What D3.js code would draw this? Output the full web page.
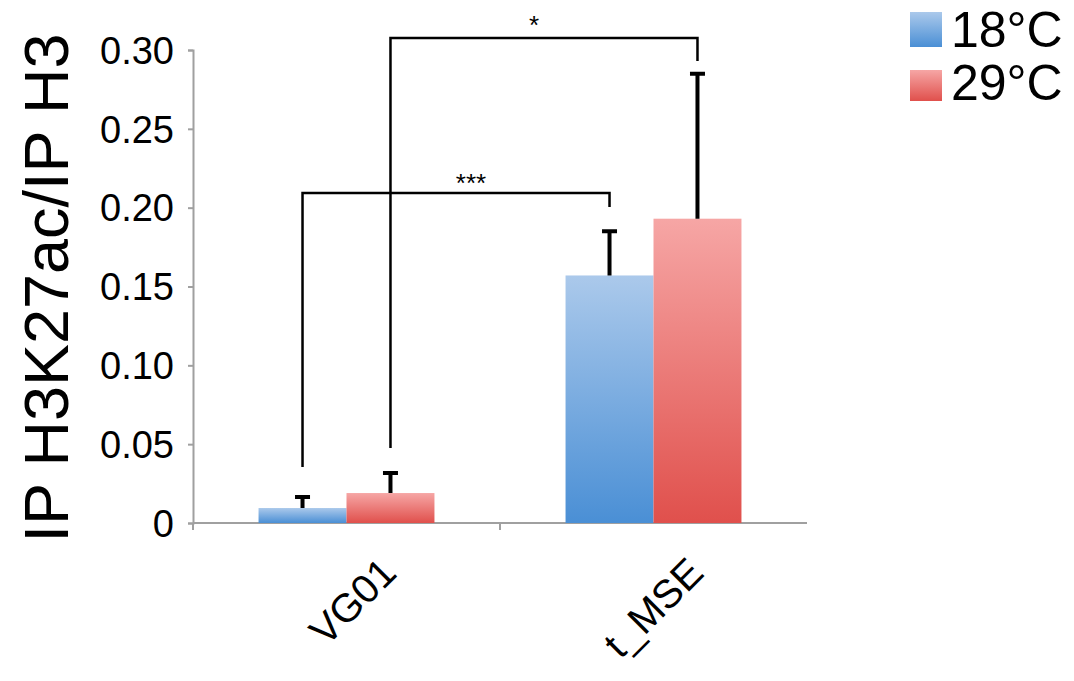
<!DOCTYPE html>
<html>
<head>
<meta charset="utf-8">
<script src="https://cdn.jsdelivr.net/npm/d3@7"></script>
<style>
body { margin: 0; background: #fff; }
text { font-family: "Liberation Sans", Arial, sans-serif; fill: #000; }
</style>
</head>
<body>
<div id="chart"></div>
<script>
// data
const categories = ['VG01', 't_MSE'];
const series = ['18°C', '29°C'];
const values18 = [0.0095, 0.157];
const values29 = [0.019, 0.193];
const errors18 = [0.007, 0.028];
const errors29 = [0.0127, 0.092];
const yTicks = [0, 0.05, 0.10, 0.15, 0.20, 0.25, 0.30];
// significance brackets: [from category, from series, to category, to series, label, level, left end, right end]
const brackets = [
  [0, 0, 1, 0, '***', 0.2093, 0.0355, 0.2004],
  [0, 1, 1, 1, '*', 0.3076, 0.0476, 0.293]
];

const w = 1074, h = 681;
const padLeft = 193, padRight = 807, padTop = 50, padBottom = 523;

const svg = d3.select('#chart').append('svg').attr('width', w).attr('height', h);

const defs = svg.append('defs');
function grad(id, c1, c2) {
  const g = defs.append('linearGradient').attr('id', id).attr('x1', 0).attr('y1', 0).attr('x2', 0).attr('y2', 1);
  g.append('stop').attr('offset', '0%').attr('stop-color', c1);
  g.append('stop').attr('offset', '100%').attr('stop-color', c2);
}
grad('gBlue', '#abc9eb', '#4a8fd5');
grad('gRed', '#f6a6a5', '#e0504c');
const fills = ['url(#gBlue)', 'url(#gRed)'];

const x0 = d3.scaleBand().domain(categories).range([padLeft, padRight]).paddingInner(0.427).paddingOuter(0.2135);
const x1 = d3.scaleBand().domain(series).range([0, x0.bandwidth()]);
const y = d3.scaleLinear().domain([0, 0.30]).range([padBottom, padTop]);

// y axis
const yAxis = d3.axisLeft(y).tickValues(yTicks).tickSize(5).tickPadding(14)
  .tickFormat(d => d === 0 ? '0' : d3.format('.2f')(d));
const gy = svg.append('g').attr('transform', 'translate(' + padLeft + ',0)').call(yAxis);
gy.select('.domain').attr('stroke', '#a0a0a0').attr('stroke-width', 2);
gy.selectAll('.tick line').attr('stroke', '#a0a0a0').attr('stroke-width', 2);
gy.selectAll('.tick text').attr('font-size', 38).attr('dy', '0.35em');

// x axis
const gx = svg.append('g').attr('transform', 'translate(0,' + padBottom + ')');
gx.append('line').attr('x1', padLeft).attr('x2', padRight).attr('stroke', '#a0a0a0').attr('stroke-width', 2);
const divs = [padLeft, (x0(categories[0]) + x0.bandwidth() + x0(categories[1])) / 2];
gx.selectAll('.xt').data(divs).enter().append('line')
  .attr('x1', d => d).attr('x2', d => d).attr('y1', 0).attr('y2', 7)
  .attr('stroke', '#a0a0a0').attr('stroke-width', 2);

gx.selectAll('.xl').data(categories).enter().append('text')
  .attr('transform', d => 'translate(' + (x0(d) + x0.bandwidth() / 2 + 52) + ',52) rotate(-45)')
  .attr('text-anchor', 'end')
  .attr('font-size', 40)
  .text(d => d);

// bars
const rows = categories.map((c, i) => [
  { c: c, s: series[0], v: values18[i], e: errors18[i], k: 0 },
  { c: c, s: series[1], v: values29[i], e: errors29[i], k: 1 }
]);
const groups = svg.selectAll('.grp').data(rows).enter().append('g')
  .attr('transform', d => 'translate(' + x0(d[0].c) + ',0)');
groups.selectAll('rect').data(d => d).enter().append('rect')
  .attr('x', d => x1(d.s))
  .attr('y', d => y(d.v))
  .attr('width', x1.bandwidth())
  .attr('height', d => padBottom - y(d.v))
  .attr('fill', d => fills[d.k]);

// error bars
groups.selectAll('.err').data(d => d).enter().append('path')
  .attr('d', d => {
    const cx = x1(d.s) + x1.bandwidth() / 2;
    const yt = y(d.v + d.e);
    return 'M' + cx + ',' + y(d.v) + 'V' + yt + 'M' + (cx - 7.5) + ',' + yt + 'H' + (cx + 7.5);
  })
  .attr('stroke', '#000').attr('stroke-width', 4).attr('fill', 'none');

// significance brackets
function barX(ci, si) { return x0(categories[ci]) + x1(series[si]) + x1.bandwidth() / 2; }
brackets.forEach((b, i) => {
  const xa = barX(b[0], b[1]), xb = barX(b[2], b[3]);
  const yl = y(b[5]);
  svg.append('path')
    .attr('d', 'M' + xa + ',' + y(b[6]) + 'V' + yl + 'H' + xb + 'V' + y(b[7]))
    .attr('stroke', '#000').attr('stroke-width', 2.5).attr('fill', 'none');
  // star labels sit a bit off-centre in the original
  svg.append('text')
    .attr('x', (xa + xb) / 2 + (i === 0 ? 15 : -10)).attr('y', yl - (i === 0 ? 1 : 4))
    .attr('text-anchor', 'middle').attr('font-size', 26)
    .text(b[4]);
});

// y label
svg.append('text')
  .attr('transform', 'translate(68,288) rotate(-90)')
  .attr('text-anchor', 'middle')
  .attr('font-size', 63)
  .text('IP H3K27ac/IP H3');

// legend
const lg = svg.append('g').attr('transform', 'translate(910,12)');
series.forEach((s, i) => {
  lg.append('rect').attr('x', 0).attr('y', i * 58).attr('width', 32).attr('height', i === 0 ? 35 : 31)
    .attr('fill', fills[i]);
  lg.append('text').attr('x', 41).attr('y', i * 53 + 35).attr('font-size', 50).text(s);
});
</script>
</body>
</html>
